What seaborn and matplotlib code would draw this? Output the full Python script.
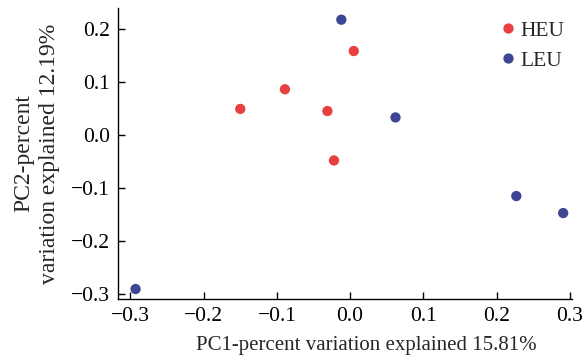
import numpy as np
import pandas as pd
import seaborn as sns
import matplotlib.pyplot as plt

# PCA scores
heu_pc1 = [0.005, -0.089, -0.150, -0.031, -0.022]
heu_pc2 = [0.158, 0.086, 0.049, 0.045, -0.048]
leu_pc1 = [-0.012, 0.062, 0.227, 0.291, -0.293]
leu_pc2 = [0.217, 0.033, -0.115, -0.147, -0.290]

groups = ['HEU', 'LEU']
colors = ['#E8403F', '#3D4594']

df = pd.DataFrame({
    'PC1': heu_pc1 + leu_pc1,
    'PC2': heu_pc2 + leu_pc2,
    'Group': ['HEU'] * len(heu_pc1) + ['LEU'] * len(leu_pc1),
})

sns.set_style('ticks')
plt.rcParams['font.family'] = ['Liberation Serif', 'DejaVu Serif']

fig = plt.figure(figsize=(5.85, 3.63), dpi=100)
ax = fig.add_axes([0.2017, 0.176, 0.776, 0.802])

sns.scatterplot(data=df, x='PC1', y='PC2', hue='Group', hue_order=groups,
                palette=colors, s=55, edgecolor='none', ax=ax)

ax.set_xlim(-0.317, 0.303)
ax.set_ylim(-0.309, 0.239)
ax.set_xticks(np.round(np.arange(-0.3, 0.31, 0.1), 1))
ax.set_yticks(np.round(np.arange(-0.3, 0.21, 0.1), 1))
fmt = plt.FuncFormatter(lambda v, p: f'{v:.1f}'.replace('-', '\u2212'))
ax.xaxis.set_major_formatter(fmt)
ax.yaxis.set_major_formatter(fmt)
ax.tick_params(direction='in', length=5, width=1, labelsize=15.5, colors='black', pad=6)
for side in ['left', 'bottom']:
    ax.spines[side].set_linewidth(1)
    ax.spines[side].set_color('black')
sns.despine(ax=ax)

ax.set_xlabel('PC1-percent variation explained 15.81%', fontsize=15, labelpad=3)
ax.xaxis.set_label_coords(0.546, -0.128)
ax.set_ylabel('PC2-percent\nvariation explained 12.19%', fontsize=17, labelpad=8,
              linespacing=1.25)

leg = ax.legend(loc='upper right', frameon=False, fontsize=15.5, handletextpad=0.2,
                handlelength=0.8, markerscale=1.0, borderaxespad=0.2,
                labelspacing=0.45, bbox_to_anchor=(1.012, 1.0))

fig.savefig('out.png', dpi=100)
